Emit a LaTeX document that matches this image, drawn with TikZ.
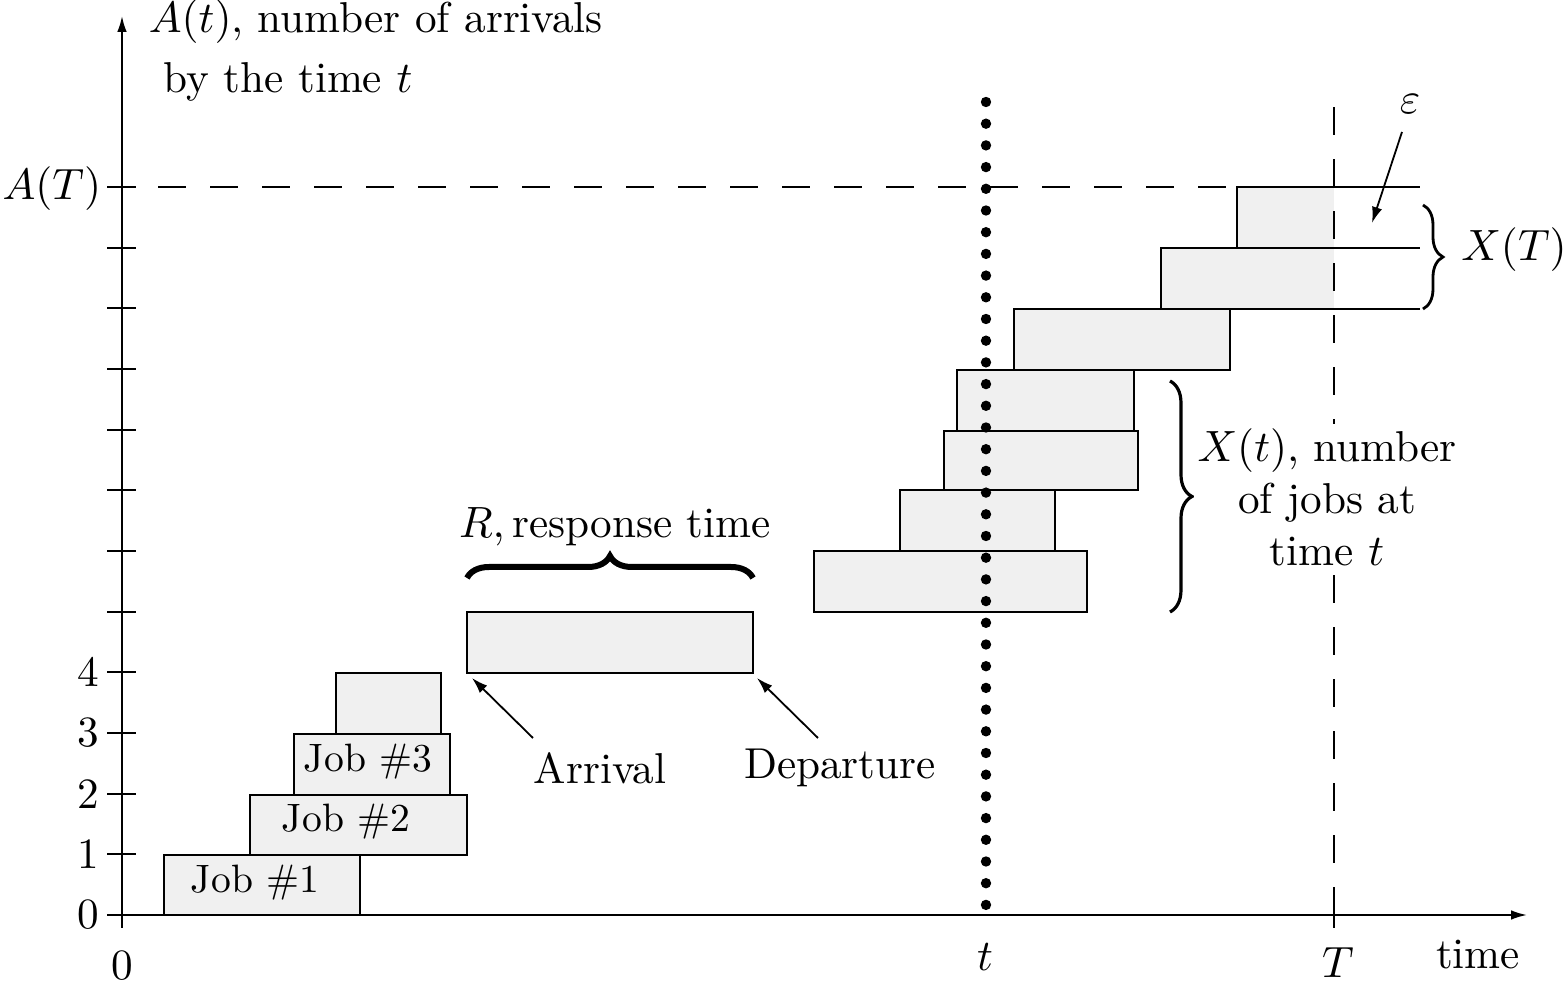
\documentclass[tikz,border=0pt]{standalone}
\usetikzlibrary{arrows.meta,decorations.pathreplacing}
\definecolor{boxfill}{RGB}{240,240,240}
\begin{document}
\begin{tikzpicture}[x=0.25pt,y=-0.25pt,
  font=\fontsize{10.8}{13}\selectfont,
  jobbox/.style={draw=black,fill=boxfill,line width=0.5pt},
  axisline/.style={line width=0.5pt,-{Latex[length=4pt,width=2.4pt]}},
  tickline/.style={line width=0.5pt},
  ptr/.style={line width=0.45pt,-{Latex[length=4pt,width=2.6pt]}},
  dashedline/.style={line width=0.5pt,dash pattern=on 7pt off 6pt},
  bracedeco/.style={decorate,decoration={brace,amplitude=#1}},
  joblbl/.style={inner sep=1pt,font=\fontsize{9.9}{12}\selectfont},
  lbl/.style={inner sep=1pt}]
\useasboundingbox (0,0) rectangle (1568,984);

% A(T) dashed level
\draw[dashedline] (158,187) -- (1420,187);

% job boxes
\draw[jobbox] (164,915) rectangle (360,855);
\draw[jobbox] (250,855) rectangle (467,795);
\draw[jobbox] (294,795) rectangle (450,734);
\draw[jobbox] (336,734) rectangle (441,673);
\draw[jobbox] (467,673) rectangle (753,612);
\draw[jobbox] (814,612) rectangle (1087,551);
\draw[jobbox] (900,551) rectangle (1055,490);
\draw[jobbox] (944,490) rectangle (1138,431);
\draw[jobbox] (957,431) rectangle (1134,370);
\draw[jobbox] (1014,370) rectangle (1230,309);
% last two jobs, still in the system at T
\fill[boxfill] (1161,309) rectangle (1334,248);
\fill[boxfill] (1237,248) rectangle (1334,187);
\draw[line width=0.5pt] (1420,309) -- (1161,309) -- (1161,248) -- (1420,248);
\draw[line width=0.5pt] (1237,248) -- (1237,187) -- (1420,187);

% vertical dashed line at T
\draw[dashedline] (1334,915) -- (1334,86);

% axes
\draw[axisline] (122,928) -- (122,16);
\draw[axisline] (122,915) -- (1527,915);
\foreach \k in {0,...,12} \draw[tickline] (107,{915-60.667*\k}) -- (136,{915-60.667*\k});
\draw[tickline] (1334,902) -- (1334,928);
\foreach \k in {0,...,4} \node[anchor=east,lbl] (n\k) at (104,{915-60.667*\k}) {\k};
\node[anchor=east,lbl] (AT) at (106,189) {$A(T)$};
\node[lbl] (zero) at (122,966) {0};
\node[lbl] (tlab) at (985,957) {$t$};
\node[lbl] (Tlab) at (1338,963) {$T$};
\node[lbl] (timelab) at (1478,955) {time};

% axis title
\node[anchor=base west,inner sep=0pt] (yt1) at (148,33) {$A(t)$, number of arrivals};
\node[anchor=base west,inner sep=0pt] (yt2) at (163,93) {by the time $t$};

% dotted line at t
\draw[line width=2.6pt,line cap=round,dash pattern=on 0pt off 5.425pt] (986,102) -- (986,906);

% job labels
\node[joblbl] (j1) at (255,883) {Job \#1};
\node[joblbl] (j2) at (346,822) {Job \#2};
\node[joblbl] (j3) at (368,762) {Job \#3};

% response time brace
\draw[bracedeco=5.5pt,line width=1.5pt] (467,578) -- (753,578);
\node[lbl] (Rlab) at (615,527) {$R,\,$response time};

% arrival / departure
\node[lbl] (arr) at (600,768) {Arrival};
\node[lbl] (dep) at (840,768) {Departure};
\coordinate (arrTail) at (533,738);
\coordinate (arrTip) at (472,678);
\coordinate (depTail) at (818,738);
\coordinate (depTip) at (757,678);
\draw[ptr] (arrTail) -- (arrTip);
\draw[ptr] (depTail) -- (depTip);

% X(t) brace and label
\draw[bracedeco=5.5pt,line width=0.8pt] (1170,381) -- (1170,612);
\node[fill=white,align=center,inner sep=1pt] (Xt) at (1327,497) {$X(t)$, number\\ of jobs at\\ time $t$};

% X(T) brace and label
\draw[bracedeco=5pt,line width=0.7pt] (1423,205) -- (1423,309);
\node[lbl] (XT) at (1514,250) {$X(T)$};

% epsilon
\node[lbl] (eps) at (1410,104) {$\varepsilon$};
\coordinate (epsTail) at (1402,132);
\coordinate (epsTip) at (1372,223);
\draw[ptr] (epsTail) -- (epsTip);
\end{tikzpicture}
\end{document}
